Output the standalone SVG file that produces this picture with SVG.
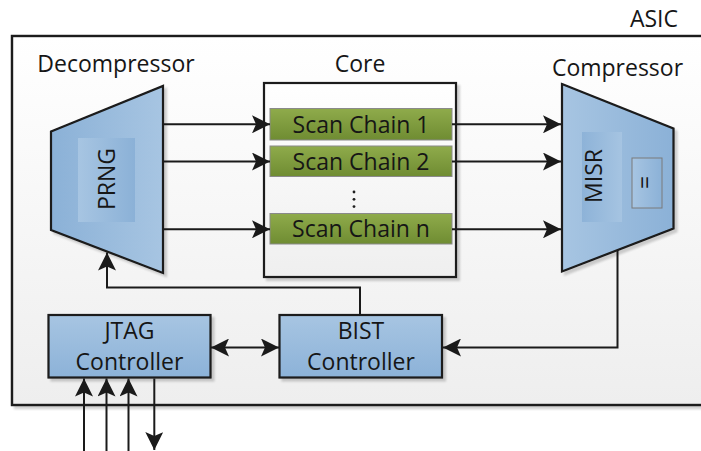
<svg xmlns="http://www.w3.org/2000/svg" width="701" height="451" viewBox="0 0 701 451">
  <defs>
    <style>
      .lbl { font-family: "Open Sans", "DejaVu Sans", sans-serif; font-size: 23px; fill: #161616; }
      .mid { text-anchor: middle; }
      .edge { stroke: #1a1a1a; stroke-width: 2; fill: none; }
      .blk { stroke: #1a1a1a; stroke-width: 2.2; }
      .chain { fill: url(#gChain); stroke: #8a8a8a; stroke-width: 1; }
    </style>
    <linearGradient id="gPanel" x1="0" y1="0" x2="0" y2="1">
      <stop offset="0" stop-color="#ffffff"/>
      <stop offset="1" stop-color="#eeeeee"/>
    </linearGradient>
    <linearGradient id="gCore" x1="0" y1="0" x2="0" y2="1">
      <stop offset="0" stop-color="#ffffff"/>
      <stop offset="1" stop-color="#efefef"/>
    </linearGradient>
    <linearGradient id="gChain" x1="0" y1="0" x2="0" y2="1">
      <stop offset="0" stop-color="#8fab4b"/>
      <stop offset="1" stop-color="#6f8c32"/>
    </linearGradient>
    <linearGradient id="gBox" x1="0" y1="0" x2="0" y2="1">
      <stop offset="0" stop-color="#a7c5e2"/>
      <stop offset="1" stop-color="#8cb2d8"/>
    </linearGradient>
    <linearGradient id="gDarkLeft" x1="0" y1="0" x2="1" y2="0">
      <stop offset="0" stop-color="#8bb1d7"/>
      <stop offset="1" stop-color="#a7c5e2"/>
    </linearGradient>
    <linearGradient id="gDarkRight" x1="0" y1="0" x2="1" y2="0">
      <stop offset="0" stop-color="#a7c5e2"/>
      <stop offset="1" stop-color="#8bb1d7"/>
    </linearGradient>
    <filter id="shadow" x="-10%" y="-10%" width="130%" height="130%">
      <feGaussianBlur in="SourceAlpha" stdDeviation="1.2"/>
      <feOffset dx="3" dy="3" result="b"/>
      <feComponentTransfer><feFuncA type="linear" slope="0.18"/></feComponentTransfer>
      <feMerge><feMergeNode/><feMergeNode in="SourceGraphic"/></feMerge>
    </filter>
    <marker id="arrow" markerUnits="userSpaceOnUse" markerWidth="19" markerHeight="18" refX="18" refY="9" orient="auto-start-reverse" viewBox="0 0 19 18">
      <path d="M0,0 L18,9 L0,18 L4,9 z" fill="#1a1a1a"/>
    </marker>
  </defs>

  <!-- ASIC boundary -->
  <g id="asic">
    <rect x="12" y="36" width="702" height="369" fill="url(#gPanel)" stroke="#1a1a1a" stroke-width="2.4" filter="url(#shadow)"/>
    <text class="lbl" x="678" y="27" text-anchor="end">ASIC</text>
  </g>

  <!-- Decompressor -->
  <g id="decompressor">
    <text class="lbl mid" x="116" y="72">Decompressor</text>
    <polygon points="51,131.5 163,86 163,273 51,230" fill="url(#gDarkLeft)" class="blk" filter="url(#shadow)"/>
    <rect x="78" y="138" width="57" height="84" fill="url(#gDarkRight)"/>
    <text class="lbl mid" x="115" y="179" transform="rotate(-90 115 179)">PRNG</text>
  </g>

  <!-- Core with scan chains -->
  <g id="core">
    <text class="lbl mid" x="360" y="72">Core</text>
    <rect x="264" y="83" width="192" height="194" fill="url(#gCore)" class="blk" filter="url(#shadow)"/>
  </g>
  <g id="scan-chain-1">
    <rect class="chain" x="270" y="108.5" width="182" height="31.5"/>
    <text class="lbl mid" x="361" y="132.5">Scan Chain 1</text>
  </g>
  <g id="scan-chain-2">
    <rect class="chain" x="270" y="146" width="182" height="30.5"/>
    <text class="lbl mid" x="361" y="170">Scan Chain 2</text>
  </g>
  <g id="scan-chain-ellipsis">
    <circle cx="354" cy="192" r="1.4" fill="#1e1e1e"/>
    <circle cx="354" cy="199.3" r="1.4" fill="#1e1e1e"/>
    <circle cx="354" cy="206.6" r="1.4" fill="#1e1e1e"/>
  </g>
  <g id="scan-chain-n">
    <rect class="chain" x="270" y="213.5" width="182" height="30.5"/>
    <text class="lbl mid" x="361" y="237">Scan Chain n</text>
  </g>

  <!-- Compressor -->
  <g id="compressor">
    <text class="lbl mid" x="617.5" y="76">Compressor</text>
    <polygon points="562,84 673.5,128.5 673.5,228.5 562,271.5" fill="url(#gDarkRight)" class="blk" filter="url(#shadow)"/>
    <rect x="582" y="132" width="40" height="90" fill="url(#gDarkLeft)" opacity="0.9"/>
    <text class="lbl mid" x="602" y="176" transform="rotate(-90 602 176)">MISR</text>
    <rect x="632" y="158" width="30" height="50" fill="url(#gDarkRight)" stroke="#7a7a7a" stroke-width="1"/>
    <text class="lbl mid" x="653" y="182.5" font-size="20" transform="rotate(-90 653 182.5)">=</text>
  </g>

  <!-- Controllers -->
  <g id="jtag-controller">
    <rect x="48.5" y="315" width="162" height="62.5" fill="url(#gBox)" class="blk" filter="url(#shadow)"/>
    <text class="lbl mid" x="129.5" y="338.5">JTAG</text>
    <text class="lbl mid" x="129.5" y="370">Controller</text>
  </g>
  <g id="bist-controller">
    <rect x="279.5" y="315" width="162.5" height="62.5" fill="url(#gBox)" class="blk" filter="url(#shadow)"/>
    <text class="lbl mid" x="361" y="338.5">BIST</text>
    <text class="lbl mid" x="361" y="370">Controller</text>
  </g>

  <!-- Connectors -->
  <g id="connectors">
    <line class="edge" x1="163" y1="124.3" x2="270" y2="124.3" marker-end="url(#arrow)"/>
    <line class="edge" x1="163" y1="161.5" x2="270" y2="161.5" marker-end="url(#arrow)"/>
    <line class="edge" x1="163" y1="229.3" x2="270" y2="229.3" marker-end="url(#arrow)"/>
    <line class="edge" x1="452" y1="124.3" x2="561" y2="124.3" marker-end="url(#arrow)"/>
    <line class="edge" x1="452" y1="161.5" x2="561" y2="161.5" marker-end="url(#arrow)"/>
    <line class="edge" x1="452" y1="229.3" x2="561" y2="229.3" marker-end="url(#arrow)"/>
    <polyline class="edge" points="360,315 360,287.5 107,287.5 107,252.5" marker-end="url(#arrow)"/>
    <polyline class="edge" points="617.5,250 617.5,347.5 443,347.5" marker-end="url(#arrow)"/>
    <line class="edge" x1="211" y1="347.5" x2="279" y2="347.5" marker-start="url(#arrow)" marker-end="url(#arrow)"/>
    <line class="edge" x1="84" y1="451" x2="84" y2="378.5" marker-end="url(#arrow)"/>
    <line class="edge" x1="106.5" y1="451" x2="106.5" y2="378.5" marker-end="url(#arrow)"/>
    <line class="edge" x1="128.5" y1="451" x2="128.5" y2="378.5" marker-end="url(#arrow)"/>
    <line class="edge" x1="154.3" y1="378.5" x2="154.3" y2="450" marker-end="url(#arrow)"/>
  </g>
</svg>
